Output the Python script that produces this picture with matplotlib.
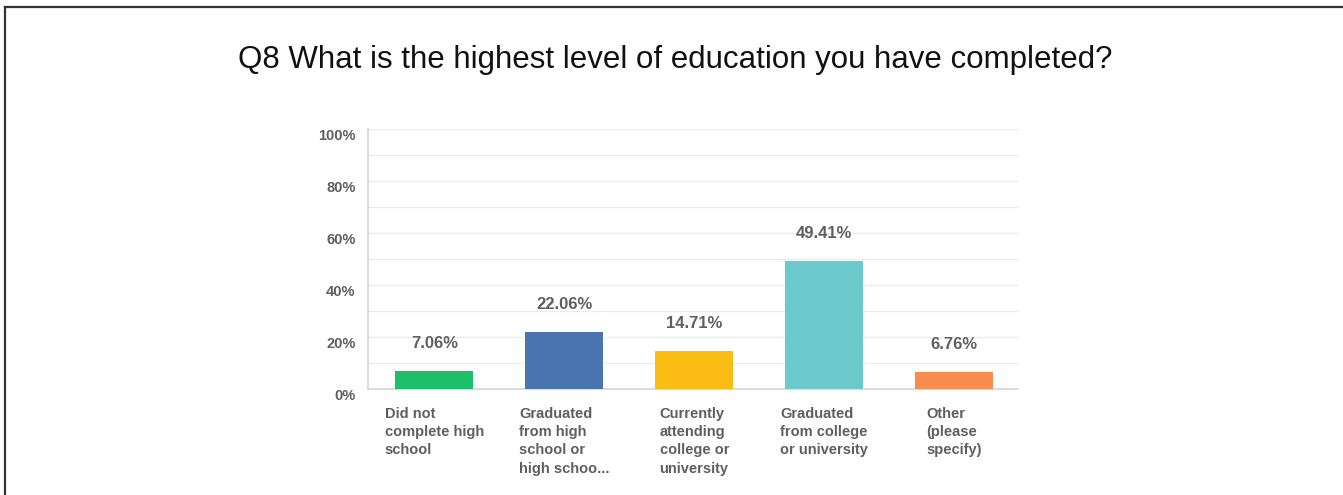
import matplotlib
matplotlib.use('Agg')
import matplotlib.pyplot as plt
from matplotlib.lines import Line2D
from matplotlib.ticker import MultipleLocator

# survey answers, Q8
categories = ["Did not\ncomplete high\nschool",
              "Graduated\nfrom high\nschool or\nhigh schoo...",
              "Currently\nattending\ncollege or\nuniversity",
              "Graduated\nfrom college\nor university",
              "Other\n(please\nspecify)"]
values = [7.06, 22.06, 14.71, 49.41, 6.76]
colors = ["#1dbf6b", "#4a74b0", "#fbbd14", "#6bc8cb", "#f98b4d"]
yticks = [0, 20, 40, 60, 80, 100]

txt = "#5f5f5f"
plt.rcParams['font.family'] = ['Liberation Sans', 'DejaVu Sans']

fig = plt.figure(figsize=(13.43, 4.95), dpi=100)
ax = fig.add_axes([0.274, 0.214, 0.484, 0.525])

x = list(range(len(values)))
ax.bar(x, values, width=0.6, color=colors, zorder=3)
ax.set_xlim(-0.51, 4.49)
ax.set_ylim(0, 100)

ax.yaxis.set_minor_locator(MultipleLocator(10))
ax.set_yticks(yticks)
ax.set_yticklabels([f"{t}%" for t in yticks], fontsize=10.5, fontweight='bold', color=txt,
                   va='top')
ax.tick_params(axis='y', which='both', length=0, pad=9)
ax.grid(axis='y', which='both', color='#ececec', lw=1, zorder=0)
ax.set_xticks([])

for s in ['top', 'right']:
    ax.spines[s].set_visible(False)
ax.spines['left'].set_color('#d6d6d6')
ax.spines['bottom'].set_color('#d6d6d6')
ax.spines['left'].set_linewidth(1.2)
ax.spines['bottom'].set_linewidth(1.2)

for xi, v in zip(x, values):
    ax.annotate(f"{v:.2f}%", (xi, v), xytext=(0, 14), textcoords='offset points',
                ha='center', va='bottom', fontsize=12, fontweight='bold', color=txt)
    ax.annotate(categories[xi], (xi, 0), xytext=(0, -13), textcoords='offset points',
                ha='center', va='top', multialignment='left', fontsize=10.5,
                fontweight='bold', color=txt, linespacing=1.38)

fig.text(0.503, 0.878, "Q8 What is the highest level of education you have completed?",
         ha='center', va='center', fontsize=22.5, color='#111111')

# page frame, top and left edges only
fig.add_artist(Line2D([0.004, 1.0], [0.986, 0.986], transform=fig.transFigure, color='#333333', lw=1.6))
fig.add_artist(Line2D([0.004, 0.004], [0.0, 0.986], transform=fig.transFigure, color='#333333', lw=1.6))

fig.savefig("out.png", dpi=100)
